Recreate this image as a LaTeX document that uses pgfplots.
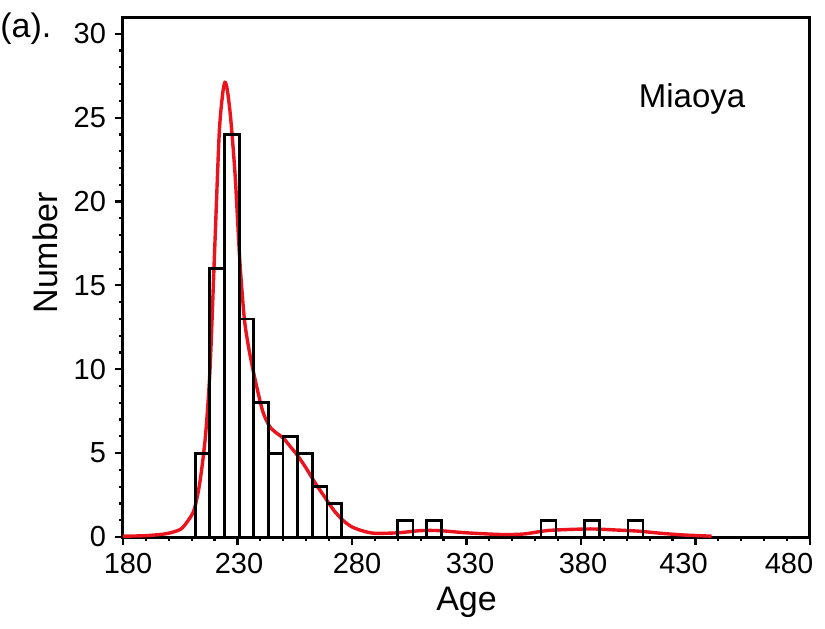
\documentclass[border=0pt]{standalone}
\usepackage{fontspec}
\setmainfont{Liberation Sans}
\usepackage{pgfplots}
\pgfplotsset{compat=1.18}
\definecolor{kde}{RGB}{235,20,30}
\begin{document}
\begin{tikzpicture}
\useasboundingbox (-61.5pt,-45.5pt) rectangle (351pt,268.5pt);
\begin{axis}[
  at={(0,0)}, anchor=south west,
  scale only axis, width=343.5pt, height=260pt,
  xmin=180, xmax=480, ymin=0, ymax=31,
  xtick={180,230,...,480}, ytick={0,5,...,30},
  xticklabels={{\makebox[0pt]{\hspace*{5pt}180}},{\makebox[0pt]{\hspace*{1.5pt}230}},{\makebox[0pt]{\hspace*{5pt}280}},{\makebox[0pt]{\hspace*{3.5pt}330}},{\makebox[0pt]{\hspace*{2pt}380}},{\makebox[0pt]{430\hspace*{12pt}}},{\makebox[0pt]{480\hspace*{21pt}}}},
  minor x tick num=4, minor y tick num=4,
  xtick pos=bottom, ytick pos=left,
  tick align=outside,
  major tick length=4pt, minor tick length=2pt,
  every tick/.style={black, line width=1.1pt},
  axis line style={line width=1.5pt},
  /pgf/number format/assume math mode=true,
  /pgf/number format/1000 sep={},
  xticklabel style={font=\fontsize{14.5}{16}\selectfont, yshift=-0.5pt, text height=10.4pt},
  yticklabel style={font=\fontsize{14.5}{16}\selectfont, xshift=-1pt},
  xlabel={Age}, ylabel={Number},
  xlabel style={font=\fontsize{17}{19}\selectfont, at={(axis description cs:0.5,0)}, anchor=base, yshift=-36.5pt},
  ylabel style={font=\fontsize{17}{19}\selectfont, at={(axis description cs:-0.1135,0.546)}, anchor=center},
]
\addplot[kde, line width=1.7pt, smooth, tension=0.45] coordinates {
(180,0.05) (190,0.08) (199,0.2) (205,0.45) (208,0.9) (211,1.6) (213.5,3.2)
(216,6) (218,10) (220,17) (222,24) (223.5,26.4) (224.5,27.1) (225.5,26.7)
(227,25) (229,21.5) (231,16.5) (233,13) (235,11.2) (237.5,9.5) (241,7.5)
(244,6.6) (247,6.2) (250,5.9) (253,5.4) (256,4.9) (260,4.1) (264,3.2)
(268,2.4) (272,1.6) (276,1.0) (280,0.6) (285,0.35) (290,0.22) (300,0.25)
(310,0.38) (318,0.38) (330,0.25) (345,0.15) (355,0.18) (365,0.38) (375,0.45)
(385,0.48) (395,0.42) (405,0.35) (415,0.22) (425,0.12) (437,0.05)
};
\addplot[ybar interval, draw=black, fill=none, line width=1.4pt] coordinates {
(211.5,5) (217.9,16) (224.3,24) (230.7,13) (237.1,8) (243.5,5) (249.9,6)
(256.3,5) (262.7,3) (269.1,2) (275.5,0)
};
\addplot[ybar interval, draw=black, fill=none, line width=1.4pt] coordinates {(300,1) (306.6,1)};
\addplot[ybar interval, draw=black, fill=none, line width=1.4pt] coordinates {(312.5,1) (319.1,1)};
\addplot[ybar interval, draw=black, fill=none, line width=1.4pt] coordinates {(362.5,1) (369.1,1)};
\addplot[ybar interval, draw=black, fill=none, line width=1.4pt] coordinates {(381.5,1) (388.1,1)};
\addplot[ybar interval, draw=black, fill=none, line width=1.4pt] coordinates {(400.5,1) (407.1,1)};
\node[font=\fontsize{16.5}{18}\selectfont, anchor=base] at (axis cs:428.5,25.6) {Miaoya};
\end{axis}
\node[font=\fontsize{17}{19}\selectfont, anchor=base west, inner sep=0pt] at (-61.5pt,250pt) {(a).};
\end{tikzpicture}
\end{document}
